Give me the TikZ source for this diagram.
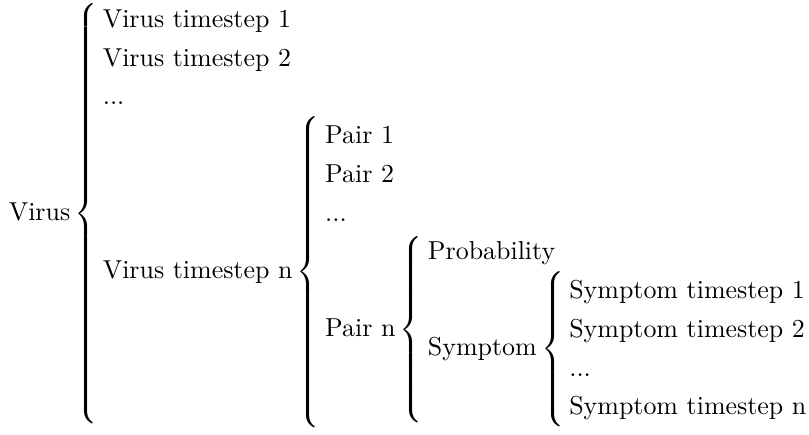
\documentclass[tikz,border=0pt]{standalone}
\usepackage{amsmath}
\renewcommand{\arraystretch}{1.24}
\setlength{\arraycolsep}{2pt}

\begin{document}
\begin{tikzpicture}
    % Nested breakdown of the virus data
    \node[inner sep=0pt] (tree) at (0,0) {$
    \text{Virus}\left\{\begin{array}{l}
        \text{Virus timestep 1}\\
        \text{Virus timestep 2}\\
        \text{...}\\
        \text{Virus timestep n}\left\{\begin{array}{l}
            \text{Pair 1}\\
            \text{Pair 2}\\
            \text{...}\\
            \text{Pair n}\left\{\begin{array}{l}
                \text{Probability}\\
                \text{Symptom}\left\{\begin{array}{l}
                    \text{Symptom timestep 1}\\
                    \text{Symptom timestep 2}\\
                    \text{...}\\
                    \text{Symptom timestep n}
                \end{array}\right.
            \end{array}\right.
        \end{array}\right.
    \end{array}\right.$};
    % Crop to the drawn part (drop the trailing column space)
    \pgfresetboundingbox
    \useasboundingbox ([xshift=-3.2pt,yshift=-2.4pt]tree.south west)
        rectangle ([xshift=-12pt]tree.north east);
\end{tikzpicture}
\end{document}
